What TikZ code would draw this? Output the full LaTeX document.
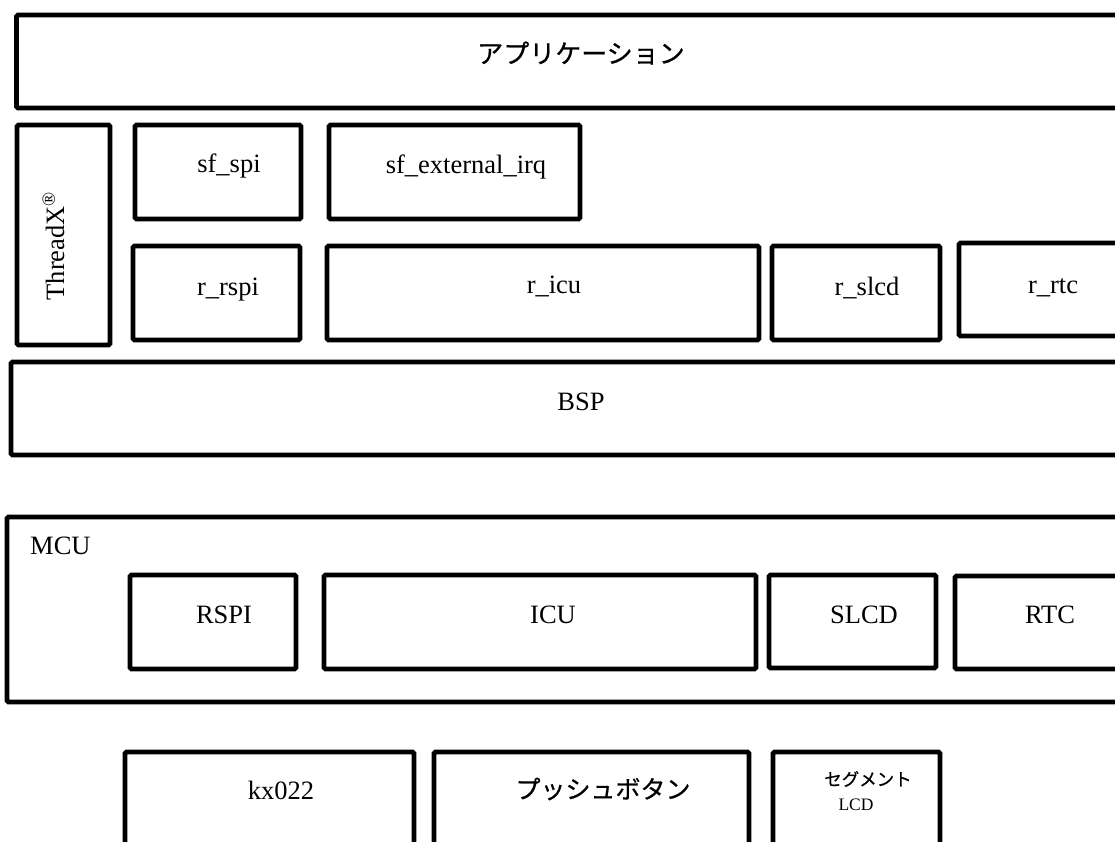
\documentclass[tikz,border=0pt]{standalone}
\usepackage{fontspec}
\setmainfont{Liberation Serif}
\newfontfamily\jp[FakeBold=0.6]{Noto Sans CJK JP}
\usetikzlibrary{fit}
\tikzset{
  blk/.style={draw=black, line width=4.8pt, rounded corners=1.5pt, inner sep=0pt, fill=none},
  lbl/.style={anchor=base, inner sep=0pt, font=\fontsize{26.5}{30}\selectfont},
  jlbl/.style={anchor=center, inner sep=0pt, font=\jp\fontsize{26}{30}\selectfont},
}
\newcommand{\mkblk}[5]{%
  \coordinate (#1-a) at (#2,#3);
  \coordinate (#1-b) at (#4,#5);
  \node[blk, fit=(#1-a)(#1-b)] (#1) {};
}
\begin{document}
\begin{tikzpicture}[x=1pt,y=-1pt]
\clip (0,0) rectangle (1115,842);
\fill[white] (0,0) rectangle (1115,842);
% application
\mkblk{app}{16.5}{15}{1130}{108}
\node[jlbl] (appt) at (581,53) {アプリケーション};
% ThreadX
\mkblk{tx}{17}{125}{110}{345}
\node[lbl, rotate=90] (txt) at (64,246) {ThreadX\textsuperscript{®}};
% sf row
\mkblk{sfspi}{135}{125}{301}{219}
\node[lbl] (sfspit) at (229,173) {sf\_spi};
\mkblk{sfirq}{329}{125}{580}{219}
\node[lbl] (sfirqt) at (466,174) {sf\_external\_irq};
% r row
\mkblk{rrspi}{133}{246}{300}{340}
\node[lbl] (rrspit) at (228,295) {r\_rspi};
\mkblk{ricu}{327}{246}{759}{340}
\node[lbl] (ricut) at (554,293) {r\_icu};
\mkblk{rslcd}{772}{246}{940}{340}
\node[lbl] (rslcdt) at (867,295) {r\_slcd};
\mkblk{rrtc}{959}{243}{1130}{336}
\node[lbl] (rrtct) at (1053,293) {r\_rtc};
% BSP
\mkblk{bsp}{11}{362}{1130}{455}
\node[lbl] (bspt) at (581,410) {BSP};
% MCU
\mkblk{mcu}{7}{517}{1130}{702}
\node[lbl, anchor=base west] (mcut) at (30,554) {MCU};
\mkblk{rspi}{130}{575}{296}{669}
\node[lbl] (rspit) at (224,623) {RSPI};
\mkblk{icu}{324}{575}{756}{669}
\node[lbl] (icut) at (553,623) {ICU};
\mkblk{slcd}{769}{575}{936}{668}
\node[lbl] (slcdt) at (864,623) {SLCD};
\mkblk{rtc}{955}{576}{1130}{669}
\node[lbl] (rtct) at (1050,623) {RTC};
% devices
\mkblk{kx}{125}{752}{414}{860}
\node[lbl] (kxt) at (281,799) {kx022};
\mkblk{push}{434}{752}{749}{860}
\node[jlbl, font=\jp\fontsize{25}{30}\selectfont] (pusht) at (603,789) {プッシュボタン};
\mkblk{seg}{773}{752}{940}{860}
\node[jlbl, font=\jp\fontsize{17.5}{20}\selectfont] (segt) at (868,779) {セグメント};
\node[lbl, font=\fontsize{17.5}{20}\selectfont] (lcdt) at (856,810) {LCD};
\end{tikzpicture}
\end{document}
